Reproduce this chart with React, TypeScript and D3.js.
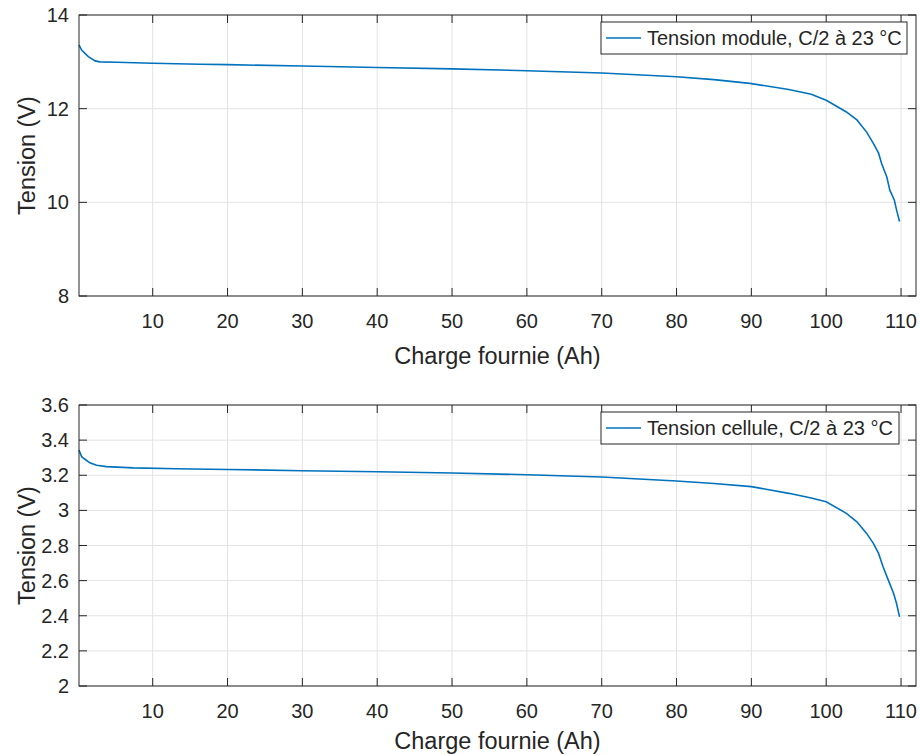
import React from "react";
import * as d3 from "d3";

const moduleCharge = [0.15, 0.5, 0.95, 1.4, 2.3, 2.95, 5.2, 10, 16.3, 20, 30, 40, 50, 60, 70, 80, 85, 89.8, 95, 98, 100, 102.7, 104.1, 105.4, 106.3, 107.0, 107.4, 108.1, 108.5, 109.1, 109.4, 109.8];
const moduleVoltage = [13.36, 13.25, 13.18, 13.11, 13.02, 13.0, 12.99, 12.97, 12.95, 12.94, 12.91, 12.88, 12.85, 12.81, 12.76, 12.68, 12.62, 12.54, 12.41, 12.31, 12.18, 11.93, 11.76, 11.5, 11.26, 11.05, 10.83, 10.54, 10.26, 10.05, 9.84, 9.59];

const cellCharge = [0.15, 0.5, 0.95, 1.6, 2.5, 3.8, 7.4, 13.2, 20, 30, 40, 50, 60, 70, 80, 85, 90, 95, 98, 100, 102.7, 104.1, 105.4, 106.3, 107.0, 107.6, 108.3, 109.0, 109.4, 109.8];
const cellVoltage = [3.344, 3.306, 3.291, 3.271, 3.257, 3.249, 3.242, 3.237, 3.233, 3.226, 3.22, 3.213, 3.203, 3.19, 3.167, 3.153, 3.135, 3.097, 3.07, 3.049, 2.983, 2.935, 2.869, 2.812, 2.755, 2.679, 2.603, 2.528, 2.47, 2.394];

const xTicks = [10, 20, 30, 40, 50, 60, 70, 80, 90, 100, 110];
const moduleTicks = [8, 10, 12, 14];
const cellTicks = [2, 2.2, 2.4, 2.6, 2.8, 3, 3.2, 3.4, 3.6];

const xLabel = "Charge fournie (Ah)";
const yLabel = "Tension (V)";
const moduleLegend = "Tension module, C/2 à 23 °C";
const cellLegend = "Tension cellule, C/2 à 23 °C";

const FONT = "'Liberation Sans', Arial, Helvetica, sans-serif";
const TXT = "#262626";
const LINE = "#0072BD";
const GRID = "#e3e3e3";

type PanelProps = {
  top: number;
  bottom: number;
  xs: number[];
  ys: number[];
  yDomain: [number, number];
  yTicks: number[];
  legend: string;
  legendRight: number;
  legendLeft: number;
  xLabelOffset: number;
};

function Panel({ top, bottom, xs, ys, yDomain, yTicks, legend, legendRight, legendLeft, xLabelOffset }: PanelProps) {
  const left = 79;
  const right = 916;
  const x = d3.scaleLinear().domain([0.15, 112]).range([left, right]);
  const y = d3.scaleLinear().domain(yDomain).range([bottom, top]);
  const line = d3
    .line<number>()
    .x((_, i) => x(xs[i]))
    .y((d) => y(d))
    .curve(d3.curveLinear);
  const tl = 8;
  const fmt = (v: number) => String(+v.toFixed(1));
  const legTop = top + 7;
  const legH = 32;
  return (
    <g>
      {xTicks.map((t) => (
        <line key={"gx" + t} x1={x(t)} x2={x(t)} y1={top} y2={bottom} stroke={GRID} strokeWidth={1} />
      ))}
      {yTicks.map((t) => (
        <line key={"gy" + t} x1={left} x2={right} y1={y(t)} y2={y(t)} stroke={GRID} strokeWidth={1} />
      ))}
      <path d={line(ys) || ""} fill="none" stroke={LINE} strokeWidth={1.6} />
      <rect x={left} y={top} width={right - left} height={bottom - top} fill="none" stroke={TXT} strokeWidth={1} />
      {xTicks.map((t) => (
        <g key={"tx" + t}>
          <line x1={x(t)} x2={x(t)} y1={bottom} y2={bottom - tl} stroke={TXT} />
          <line x1={x(t)} x2={x(t)} y1={top} y2={top + tl} stroke={TXT} />
          <text x={x(t)} y={bottom + 32} textAnchor="middle" fontSize={20} fill={TXT} fontFamily={FONT}>
            {t}
          </text>
        </g>
      ))}
      {yTicks.map((t) => (
        <g key={"ty" + t}>
          <line x1={left} x2={left + tl} y1={y(t)} y2={y(t)} stroke={TXT} />
          <line x1={right} x2={right - tl} y1={y(t)} y2={y(t)} stroke={TXT} />
          <text x={left - 10} y={y(t) + 7} textAnchor="end" fontSize={20} fill={TXT} fontFamily={FONT}>
            {fmt(t)}
          </text>
        </g>
      ))}
      <text x={(left + right) / 2} y={bottom + xLabelOffset} textAnchor="middle" fontSize={23.5} fill={TXT} fontFamily={FONT}>
        {xLabel}
      </text>
      <text
        transform={`translate(35,${(top + bottom) / 2}) rotate(-90)`}
        textAnchor="middle"
        fontSize={23.5}
        fill={TXT}
        fontFamily={FONT}
      >
        {yLabel}
      </text>
      <rect x={legendLeft} y={legTop} width={legendRight - legendLeft} height={legH} fill="#fff" stroke={TXT} strokeWidth={1} />
      <line x1={legendLeft + 5} x2={legendLeft + 40} y1={legTop + legH / 2} y2={legTop + legH / 2} stroke={LINE} strokeWidth={1.6} />
      <text x={legendLeft + 46} y={legTop + legH / 2 + 7} fontSize={20} fill={TXT} fontFamily={FONT}>
        {legend}
      </text>
    </g>
  );
}

export default function App() {
  return (
    <svg width={921} height={755} style={{ position: "absolute", left: 0, top: 0, background: "#fff" }}>
      <rect width={921} height={755} fill="#fff" />
      <Panel
        top={15}
        bottom={296}
        xs={moduleCharge}
        ys={moduleVoltage}
        yDomain={[8, 14]}
        yTicks={moduleTicks}
        legend={moduleLegend}
        legendLeft={601}
        legendRight={907}
        xLabelOffset={68}
      />
      <Panel
        top={405}
        bottom={686}
        xs={cellCharge}
        ys={cellVoltage}
        yDomain={[2, 3.6]}
        yTicks={cellTicks}
        legend={cellLegend}
        legendLeft={601}
        legendRight={899}
        xLabelOffset={63}
      />
    </svg>
  );
}
